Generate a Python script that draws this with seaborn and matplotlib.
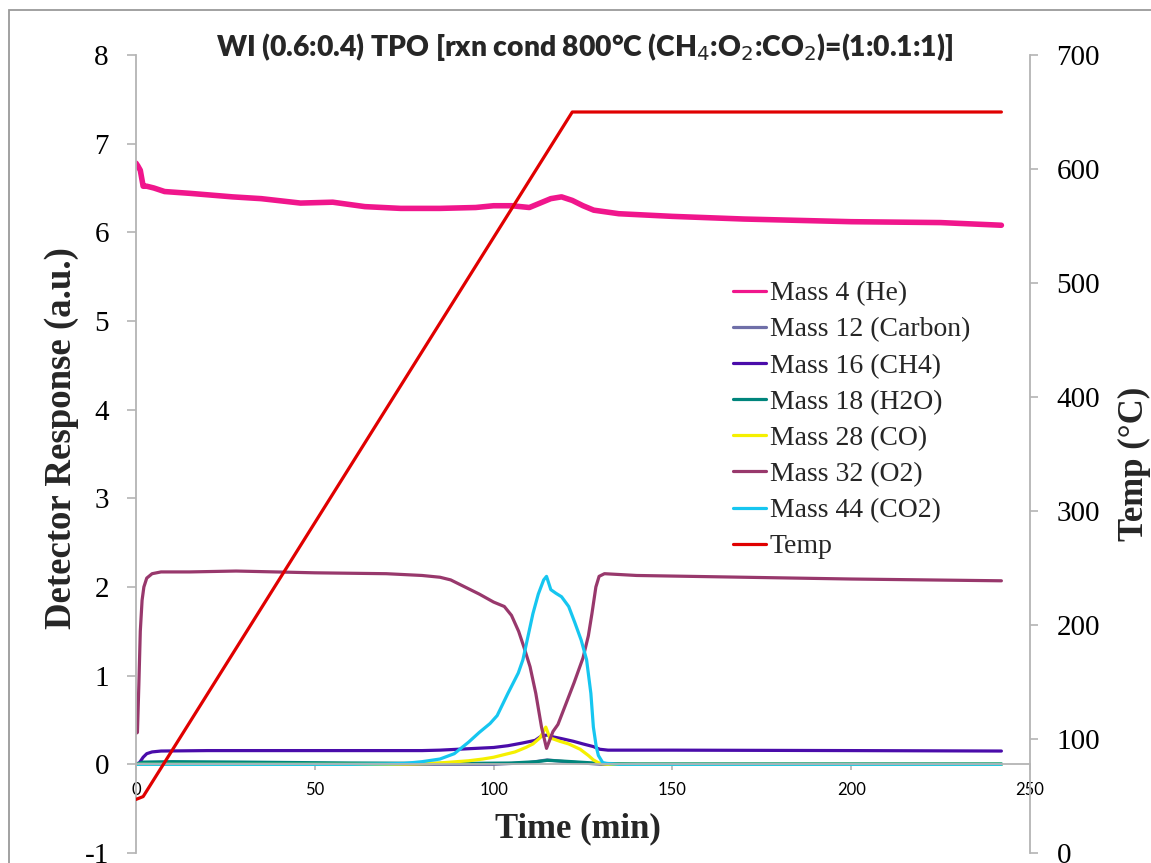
import matplotlib
matplotlib.use("Agg")
import matplotlib.pyplot as plt
from matplotlib.lines import Line2D
from matplotlib.patches import Rectangle
import seaborn as sns
import pandas as pd

# ---------------- data ----------------
t_he = [0, 0.5, 1.2, 2, 3, 5, 8, 15, 27, 35, 46, 55, 64, 74, 85, 95, 100, 105,
        110, 113, 116, 119, 122, 125, 128, 135, 150, 170, 200, 225, 242]
v_he = [6.78, 6.75, 6.7, 6.52, 6.52, 6.5, 6.46, 6.44, 6.40, 6.38, 6.33, 6.34, 6.29,
        6.27, 6.27, 6.28, 6.3, 6.3, 6.28, 6.33, 6.38, 6.4, 6.36, 6.3, 6.25, 6.21,
        6.18, 6.15, 6.12, 6.11, 6.08]

t_c = [0, 100, 110, 115, 120, 130, 242]
v_c = [0.0, 0.0, 0.02, 0.05, 0.03, 0.0, 0.0]

t_ch4 = [0, 1, 2, 3, 4.5, 7, 20, 50, 80, 85, 90, 95, 100, 104, 108, 111.6, 113.4,
         115, 116.6, 119, 122.3, 125, 127.9, 129.7, 132, 150, 200, 242]
v_ch4 = [0.0, 0.02, 0.08, 0.12, 0.14, 0.15, 0.155, 0.155, 0.155, 0.16, 0.17, 0.18,
         0.19, 0.21, 0.24, 0.27, 0.32, 0.33, 0.31, 0.29, 0.26, 0.23, 0.2, 0.17, 0.16,
         0.16, 0.155, 0.15]

t_h2o = [0, 2, 10, 30, 60, 90, 105, 112, 115, 120, 126, 130, 140, 242]
v_h2o = [0.0, 0.025, 0.03, 0.025, 0.015, 0.01, 0.015, 0.03, 0.045, 0.035, 0.02,
         0.01, 0.005, 0.005]

t_co = [0, 70, 78, 83, 88, 93, 97, 100, 103, 106, 109, 111, 113, 114.6, 115.7,
        118.5, 121, 124.2, 126.5, 127.9, 129.7, 132, 242]
v_co = [0.0, 0.0, 0.005, 0.01, 0.025, 0.04, 0.06, 0.08, 0.11, 0.14, 0.19, 0.23,
        0.3, 0.42, 0.3, 0.26, 0.23, 0.17, 0.1, 0.05, 0.01, 0.0, 0.0]

t_o2 = [0, 0.4, 0.8, 1.2, 1.7, 2.2, 3, 4.5, 7, 15, 28, 50, 70, 80, 85, 88, 92, 96,
        100, 103, 105, 107, 108.5, 110.2, 111.8, 113.4, 114.8, 116.6, 118, 120.3,
        122.5, 125, 126.5, 127.5, 128.6, 129.5, 131, 140, 170, 200, 242]
v_o2 = [0.35, 0.36, 0.9, 1.5, 1.85, 2.0, 2.1, 2.15, 2.17, 2.17, 2.18, 2.16, 2.15,
        2.13, 2.11, 2.08, 2.0, 1.92, 1.83, 1.78, 1.68, 1.5, 1.32, 1.1, 0.8, 0.42,
        0.18, 0.37, 0.45, 0.69, 0.92, 1.2, 1.45, 1.7, 2.0, 2.12, 2.15, 2.13, 2.11,
        2.09, 2.07]

t_co2 = [0, 60, 70, 75, 80, 85, 89, 93, 96, 99, 101, 104, 106.9, 108.2, 111, 112.5,
         114, 114.8, 116, 117.4, 119, 121, 122.7, 124.5, 126, 127.2, 127.9, 128.7,
         129.3, 130.5, 131.6, 135, 242]
v_co2 = [0.0, 0.0, 0.005, 0.01, 0.03, 0.06, 0.12, 0.25, 0.36, 0.46, 0.55, 0.8, 1.03,
         1.18, 1.7, 1.92, 2.08, 2.12, 1.97, 1.93, 1.89, 1.78, 1.6, 1.4, 1.18, 0.8,
         0.42, 0.2, 0.1, 0.02, 0.01, 0.0, 0.0]

t_temp = [0, 2, 122, 242]
v_temp = [47, 49.5, 650, 650]

series_names = ["Mass 4 (He)", "Mass 12 (Carbon)", "Mass 16 (CH4)", "Mass 18 (H2O)",
                "Mass 28 (CO)", "Mass 32 (O2)", "Mass 44 (CO2)"]
series_t = [t_he, t_c, t_ch4, t_h2o, t_co, t_o2, t_co2]
series_v = [v_he, v_c, v_ch4, v_h2o, v_co, v_o2, v_co2]
colors = ["#f0168c", "#6f6fa8", "#4a0caa", "#00857c", "#f5f000", "#98386c", "#16c6f0"]
temp_color = "#e00000"

x_ticks = [0, 50, 100, 150, 200, 250]
y_ticks = [-1, 0, 1, 2, 3, 4, 5, 6, 7, 8]
y2_ticks = [0, 100, 200, 300, 400, 500, 600, 700]

# ---------------- figure ----------------
sns.set_theme(style="white")
plt.rcParams["font.family"] = ["Liberation Serif", "DejaVu Serif"]

fig = plt.figure(figsize=(11.51, 8.63), dpi=100)
ax = fig.add_axes([136 / 1151, 1 - 853 / 863, (1030 - 136) / 1151, 798 / 863])
ax2 = ax.twinx()

frames = []
for name, tt, vv in zip(series_names, series_t, series_v):
    frames.append(pd.DataFrame({"Time": tt, "Value": vv, "Series": name}))
df = pd.concat(frames, ignore_index=True)

for name, col in zip(series_names, colors):
    sub = df[df["Series"] == name]
    lw = 4.0 if name == "Mass 4 (He)" else 2.3
    sns.lineplot(data=sub, x="Time", y="Value", color=col, linewidth=lw,
                 sort=False, estimator=None, ax=ax, legend=False)

dft = pd.DataFrame({"Time": t_temp, "Temp": v_temp})
sns.lineplot(data=dft, x="Time", y="Temp", color=temp_color, linewidth=2.3,
             sort=False, estimator=None, ax=ax2, legend=False)

spine_c = "#b4b4b4"
for a in (ax, ax2):
    for s in a.spines.values():
        s.set_color(spine_c)
        s.set_linewidth(1.3)
    a.spines["top"].set_visible(False)
    a.grid(False)
    a.set_facecolor("none")
ax.spines["right"].set_visible(False)
ax2.spines["left"].set_visible(False)
ax2.spines["bottom"].set_visible(False)
ax.spines["bottom"].set_position(("data", 0))

ax.set_xlim(0, 250)
ax.set_ylim(-1, 8)
ax2.set_ylim(0, 700)
ax.set_xticks(x_ticks)
ax.set_yticks(y_ticks)
ax2.set_yticks(y2_ticks)
ax.set_yticklabels([str(v) for v in y_ticks])
ax2.set_yticklabels([str(v) for v in y2_ticks])
ax.set_xticklabels([str(v) for v in x_ticks])

ax.tick_params(axis="y", which="both", left=True, direction="out", length=6.5,
               width=1.2, color=spine_c, pad=13, labelsize=21, labelcolor="black")
ax2.tick_params(axis="y", which="both", right=True, direction="out", length=6.0,
                width=1.2, color=spine_c, pad=13, labelsize=21, labelcolor="black")
ax.tick_params(axis="x", bottom=True, direction="out", length=4, width=1.2,
               color=spine_c, pad=9, labelsize=12, labelcolor="black")
for lab in ax.get_xticklabels():
    lab.set_fontfamily("Lato")

ax.set_xlabel("Time (min)", fontsize=25, fontweight="bold", va="center")
ax.xaxis.set_label_coords(0.494, 0.03)
ax.set_ylabel("Detector Response (a.u.)", fontsize=26.5, fontweight="bold", va="center")
ax.yaxis.set_label_coords(-0.083, 0.52)
ax2.set_ylabel("Temp (°C)", fontsize=25, fontweight="bold", va="center", rotation=90)
ax2.yaxis.set_label_coords(1.117, 0.488)

fig.text(585 / 1151, 1 - 47 / 863,
         r"WI (0.6:0.4) TPO [rxn cond 800°C (CH$_4$:O$_2$:CO$_2$)=(1:0.1:1)]",
         fontfamily="Lato", fontweight="heavy", fontsize=20.3, ha="center", va="center")

handles = [Line2D([0], [0], color=c, lw=2.3) for c in colors]
handles.append(Line2D([0], [0], color=temp_color, lw=2.3))
labels = series_names + ["Temp"]
leg = fig.legend(handles, labels, loc="upper left",
                 bbox_to_anchor=(733 / 1151, 1 - 281 / 863),
                 bbox_transform=fig.transFigure, frameon=False, fontsize=20,
                 handlelength=1.2, handletextpad=0.12, labelspacing=0.385,
                 borderpad=0, borderaxespad=0)

fig.patches.append(Rectangle((9 / 1151, -0.1), 1.2, 1.1 - 10 / 863, fill=False,
                             edgecolor="#9a9a9a", linewidth=1.3,
                             transform=fig.transFigure, figure=fig))

fig.savefig("out.png", dpi=100)
